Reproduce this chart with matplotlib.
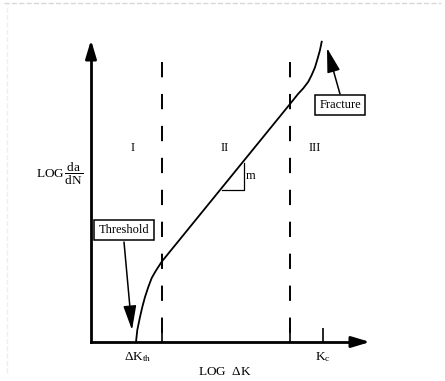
"""Fatigue crack growth schematic (Paris regimes)."""

import matplotlib
matplotlib.use("Agg")
import matplotlib.pyplot as plt
from matplotlib.lines import Line2D

plt.rcParams['font.family'] = ['Liberation Serif', 'DejaVu Serif']
plt.rcParams['mathtext.fontset'] = 'custom'
plt.rcParams['mathtext.rm'] = 'Liberation Serif'
plt.rcParams['mathtext.it'] = 'Liberation Serif:italic'
plt.rcParams['lines.scale_dashes'] = False

# schematic curve, log dK (x) vs log da/dN (y), arbitrary units
curve_x = [45, 46.3, 49, 51.3, 54, 57.3, 60.7, 64.7, 70.7,
           199, 203, 207, 212.3, 217.3, 220.7, 224, 226.7, 229, 230.7]
curve_y = [0, 12, 25, 35, 45, 55, 64, 71, 80.3,
           238, 243, 248, 253.7, 260.3, 267, 274.7, 283.7, 292, 300.3]

# regime boundaries and key points on the log dK axis
boundary_x = [70.5, 199]
boundary_top = 280
dk_th = 45
k_c = 232
region_labels = ["I", "II", "III"]
region_x = [42, 134, 224]
region_y = 194

# slope triangle (on the linear part)
tri_x = [130.7, 153, 153]
tri_y = [152, 152, 179.5]

fig = plt.figure(figsize=(4.45, 3.81), dpi=100)
fig.patch.set_facecolor('white')
ax = fig.add_axes([0, 0, 1, 1])
ax.set_xlim(-91, 354)
ax.set_ylim(-39, 342)

# axes drawn as spines through the origin
for side in ['top', 'right']:
    ax.spines[side].set_visible(False)
for side in ['left', 'bottom']:
    ax.spines[side].set_position(('data', 0))
    ax.spines[side].set_linewidth(2)
ax.spines['left'].set_bounds(0, 290)
ax.spines['bottom'].set_bounds(0, 265)

ax.set_yticks([])
ax.set_xticks(boundary_x + [k_c])
ax.set_xticklabels([])
ax.tick_params(axis='x', direction='in', length=10, width=1.2, color='black')

arrow_kw = dict(arrowstyle='-|>,head_length=1.1,head_width=0.33', color='black',
                lw=2, shrinkA=0, shrinkB=0)
ax.annotate('', xy=(0, 302), xytext=(0, 285), arrowprops=arrow_kw)
ax.annotate('', xy=(279, 0), xytext=(260, 0), arrowprops=arrow_kw)

# regime boundaries
for bx in boundary_x:
    ax.plot([bx, bx], [boundary_top, 0], color='black', lw=1.4,
            dashes=(11, 12), solid_capstyle='butt', dash_capstyle='butt')

# crack growth curve
ax.plot(curve_x, curve_y, color='black', lw=1.3)

# slope triangle
ax.plot(tri_x, tri_y, color='black', lw=0.9)
ax.text(tri_x[1] + 7, (tri_y[0] + tri_y[2]) / 2, "m", fontsize=9,
        ha='center', va='center')

for lab, rx in zip(region_labels, region_x):
    ax.text(rx, region_y, lab, fontsize=9, ha='center', va='center')

# annotations
box = dict(boxstyle='square,pad=0.35', fc='white', ec='black', lw=1.1)
head_kw = dict(arrowstyle='-|>,head_length=1.5,head_width=0.4', color='black',
               lw=1.1, shrinkA=0, shrinkB=0)
ax.text(33, 112, "Threshold", fontsize=9, ha='center', va='center', bbox=box)
ax.annotate('', xy=(41, 12), xytext=(33, 100), arrowprops=head_kw)
ax.text(249, 237, "Fracture", fontsize=9, ha='center', va='center', bbox=box)
ax.annotate('', xy=(236, 294), xytext=(249, 248), arrowprops=head_kw)

# axis labels
ax.text(dk_th + 2, -15, r"$\Delta$K$_{\rm th}$", fontsize=9.5, ha='center', va='center')
ax.text(k_c, -15, r"K$_{\rm c}$", fontsize=9.5, ha='center', va='center')
ax.text(134, -30, r"LOG  $\Delta$K", fontsize=9.5, ha='center', va='center')
ax.text(-8, 164, r"LOG$\,\dfrac{\rm da}{\rm dN}$", fontsize=9.5, ha='right', va='baseline')

# faint scan border
fig.add_artist(Line2D([0.01, 0.99], [0.992, 0.992], color='#d8d8d8', lw=1, ls='--'))
fig.add_artist(Line2D([0.016, 0.016], [0.02, 0.99], color='#eeeeee', lw=1, ls='--'))

fig.savefig("out.png", dpi=100, facecolor='white')
plt.close(fig)
